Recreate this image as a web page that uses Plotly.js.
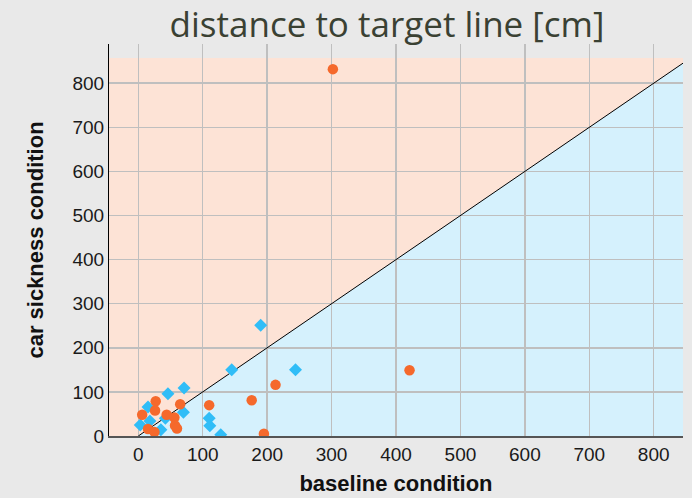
<!DOCTYPE html>
<html><head><meta charset="utf-8">
<script src="https://cdn.plot.ly/plotly-3.0.1.min.js"></script>
<style>html,body{margin:0;padding:0;background:#e9e9e9;}</style>
</head><body><div id="chart" style="width:692px;height:498px;"></div>
<script>
// orange circles series
const orangeX = [302, 421, 213, 176, 110, 195, 65, 27, 26, 6, 44, 56, 57, 60, 15, 25];
const orangeY = [832, 149, 116, 81, 70, 5, 72, 79, 58, 48, 48, 42, 24, 17, 16, 9];
// blue diamonds series
const blueX = [190, 145, 244, 110, 111, 128, 71, 46, 15, 70, 42, 3, 18, 35];
const blueY = [251, 150, 150, 40, 23, 3, 109, 96, 66, 54, 40, 25, 34, 14];
// identity line
const lineX = [0, 900];
const lineY = [0, 900];
const shadeMax = 857;
const xTicks = [0, 100, 200, 300, 400, 500, 600, 700, 800];
const yTicks = [0, 100, 200, 300, 400, 500, 600, 700, 800];

const traces = [
  {x: lineX, y: lineY, mode: 'lines', line: {color: '#000', width: 1}, hoverinfo: 'skip'},
  {x: blueX, y: blueY, mode: 'markers', name: 'blue',
   marker: {symbol: 'diamond', size: 10, color: '#30bdf7'}},
  {x: orangeX, y: orangeY, mode: 'markers', name: 'orange',
   marker: {symbol: 'circle', size: 10.5, color: '#f5692c'}}
];

const tickFont = {family: 'Liberation Sans, Arial, sans-serif', size: 19, color: '#1a1a1a'};
const layout = {
  width: 692, height: 498,
  paper_bgcolor: '#e9e9e9', plot_bgcolor: '#e9e9e9',
  showlegend: false,
  margin: {l: 109, r: 9, t: 44, b: 62},
  title: {text: 'distance to target line [cm]', x: 387/692, xref: 'container', xanchor: 'center',
          y: 0.95, yref: 'container', yanchor: 'middle',
          font: {family: 'Open Sans, sans-serif', size: 35, color: '#3a4133'}},
  xaxis: {range: [-45.5, 845.5], tickvals: xTicks, ticktext: xTicks.map(String),
          showgrid: true, gridcolor: '#bfbfbf', gridwidth: 1.5, zeroline: false,
          showline: true, linecolor: '#555', linewidth: 2, ticks: '',
          tickfont: tickFont,
          title: {text: '<b>baseline condition</b>', standoff: 12,
                  font: {family: 'Liberation Sans, Arial, sans-serif', size: 22, color: '#111'}}},
  yaxis: {range: [0, 889], tickvals: yTicks, ticktext: yTicks.map(String),
          showgrid: true, gridcolor: '#bfbfbf', gridwidth: 1.5, zeroline: false,
          showline: true, linecolor: '#000', linewidth: 1, ticks: '',
          tickfont: tickFont,
          title: {text: '<b>car sickness condition</b>', standoff: 22,
                  font: {family: 'Liberation Sans, Arial, sans-serif', size: 22, color: '#111'}}},
  shapes: [
    {type: 'path', xref: 'x', yref: 'y', layer: 'below', line: {width: 0},
     fillcolor: '#fde3d6',
     path: `M -100,0 L -100,${shadeMax} L ${shadeMax},${shadeMax} L 0,0 Z`},
    {type: 'path', xref: 'x', yref: 'y', layer: 'below', line: {width: 0},
     fillcolor: '#d5f1fd',
     path: `M 0,0 L ${shadeMax},${shadeMax} L ${shadeMax},0 Z`}
  ]
};
Plotly.newPlot('chart', traces, layout, {displayModeBar: false, staticPlot: true});
</script>
</body></html>
